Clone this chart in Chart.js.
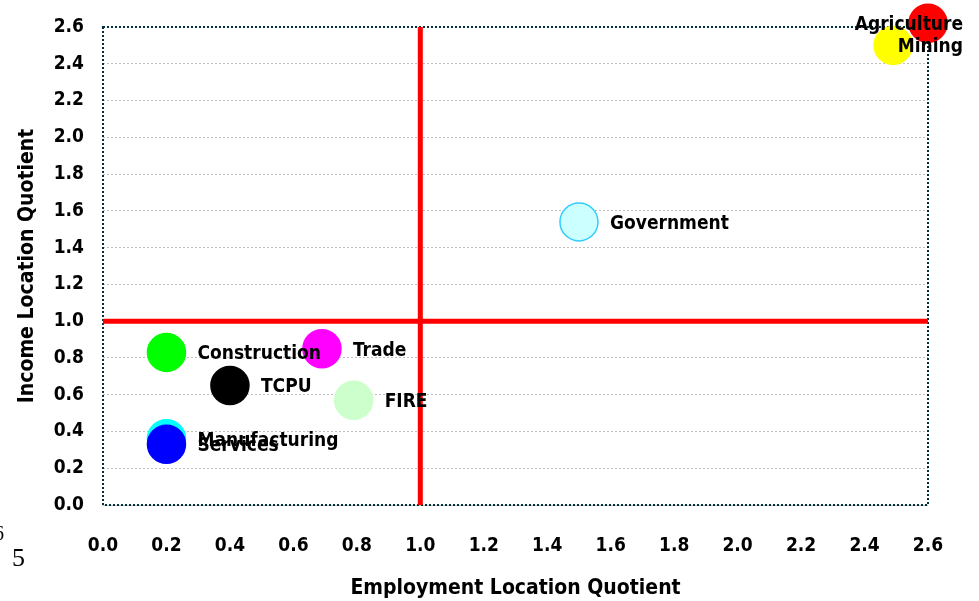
<!DOCTYPE html>
<html>
<head>
<meta charset="utf-8">
<script src="https://cdn.jsdelivr.net/npm/chart.js@4.4.0/dist/chart.umd.min.js"></script>
<style>
  html, body { margin: 0; padding: 0; background: #fff; }
  #wrap { width: 979px; height: 601px; position: relative; }
</style>
</head>
<body>
<div id="wrap"><canvas id="myChart" width="979" height="601"></canvas></div>
<script>
// sectors, drawn in this order (later ones on top)
const sectors = ["Construction", "Manufacturing", "TCPU", "Trade", "FIRE", "Services", "Government", "Mining", "Agriculture"];
const employmentLQ = [0.20, 0.20, 0.40, 0.69, 0.79, 0.20, 1.50, 2.49, 2.60];
const incomeLQ = [0.83, 0.36, 0.65, 0.85, 0.57, 0.33, 1.54, 2.50, 2.62];
const pointColors = ["#00ff00", "#00ffff", "#000000", "#ff00ff", "#ccffcc", "#0000ff", "#ccffff", "#ffff00", "#ff0000"];
const pointBorders = ["#00ff00", "#00ffff", "#000000", "#ff00ff", "#ccffcc", "#0000ff", "#33ccff", "#ffff00", "#ff0000"];

const xTicks = [0.0, 0.2, 0.4, 0.6, 0.8, 1.0, 1.2, 1.4, 1.6, 1.8, 2.0, 2.2, 2.4, 2.6];
const yTicks = [0.0, 0.2, 0.4, 0.6, 0.8, 1.0, 1.2, 1.4, 1.6, 1.8, 2.0, 2.2, 2.4, 2.6];
const refLine = 1.0;

const FONT = "'Liberation Sans Narrow', 'DejaVu Sans Condensed', 'Arial Narrow', sans-serif";

const points = sectors.map((s, i) => ({ x: employmentLQ[i], y: incomeLQ[i] }));

// dotted border round the plot area
const frame = {
  id: "frame",
  beforeDatasetsDraw(chart) {
    const a = chart.chartArea;
    const c = chart.ctx;
    c.save();
    c.strokeStyle = "#00303a";
    c.lineWidth = 2;
    c.setLineDash([2, 2]);
    c.strokeRect(a.left, a.top, a.right - a.left, a.bottom - a.top);
    c.restore();
  }
};

// sector names next to the bubbles
const labels = {
  id: "labels",
  afterDatasetsDraw(chart) {
    const c = chart.ctx;
    const meta = chart.getDatasetMeta(2);
    c.save();
    c.font = "bold 19px " + FONT;
    c.fillStyle = "#000";
    c.textBaseline = "middle";
    meta.data.forEach((el, i) => {
      const w = c.measureText(sectors[i]).width;
      let x = el.x + 31;
      if (x + w > 963) x = 963 - w;
      c.fillText(sectors[i], x, el.y + 2);
    });
    // stray characters at lower left
    c.font = "26px 'Liberation Serif', serif";
    c.fillText("5", 12, 559);
    c.font = "20px 'Liberation Serif', serif";
    c.fillText("6", -6, 535);
    c.restore();
  }
};

new Chart(document.getElementById("myChart"), {
  type: "scatter",
  data: {
    datasets: [
      {
        type: "line",
        data: [{ x: refLine, y: 0 }, { x: refLine, y: 2.6 }],
        borderColor: "#ff0000",
        borderWidth: 5,
        pointRadius: 0,
        clip: false
      },
      {
        type: "line",
        data: [{ x: 0, y: refLine }, { x: 2.6, y: refLine }],
        borderColor: "#ff0000",
        borderWidth: 5,
        pointRadius: 0,
        clip: false
      },
      {
        data: points,
        pointRadius: 19,
        pointBackgroundColor: pointColors,
        pointBorderColor: pointBorders,
        pointBorderWidth: 1.5,
        clip: false
      }
    ]
  },
  options: {
    responsive: false,
    animation: false,
    layout: { padding: { top: 27, right: 51, left: 0, bottom: 0 } },
    plugins: { legend: { display: false }, tooltip: { enabled: false } },
    scales: {
      x: {
        type: "linear",
        min: 0,
        max: 2.6,
        afterBuildTicks: s => { s.ticks = xTicks.map(v => ({ value: v })); },
        afterFit: s => { s.height = 96; },
        grid: { display: false, drawTicks: false },
        border: { display: false },
        ticks: {
          padding: 30,
          color: "#000",
          font: { family: FONT, size: 19, weight: "bold" },
          callback: v => Number(v).toFixed(1)
        },
        title: {
          display: true,
          text: "Employment Location Quotient",
          color: "#000",
          font: { family: FONT, size: 21, weight: "bold" },
          padding: { top: 0, bottom: 0 }
        }
      },
      y: {
        type: "linear",
        min: 0,
        max: 2.6,
        afterBuildTicks: s => { s.ticks = yTicks.map(v => ({ value: v })); },
        afterFit: s => { s.width = 103; s.paddingTop = 0; s.paddingBottom = 0; },
        grid: { color: "#bdbdbd", drawTicks: false },
        border: { display: false, dash: [2, 2] },
        ticks: {
          padding: 19,
          color: "#000",
          font: { family: FONT, size: 19, weight: "bold" },
          callback: v => Number(v).toFixed(1)
        },
        title: {
          display: true,
          text: "Income Location Quotient",
          color: "#000",
          font: { family: FONT, size: 21, weight: "bold" },
          padding: { top: 15, bottom: 0 }
        }
      }
    }
  },
  plugins: [frame, labels]
});
</script>
</body>
</html>
